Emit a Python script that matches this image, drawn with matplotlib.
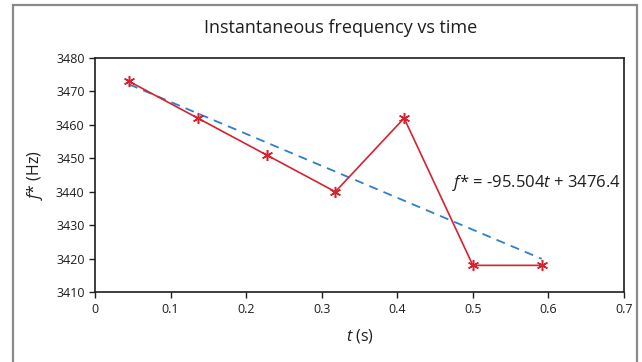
import numpy as np
import matplotlib.pyplot as plt
from matplotlib.patches import Rectangle

# data
t = [0.045, 0.136, 0.227, 0.318, 0.409, 0.500, 0.591]
f_star = [3473, 3462, 3451, 3440, 3462, 3418, 3418]

# linear trendline shown on the chart
fit_slope = -95.504
fit_intercept = 3476.4

x_ticks = [0, 0.1, 0.2, 0.3, 0.4, 0.5, 0.6, 0.7]
x_tick_labels = ["0", "0.1", "0.2", "0.3", "0.4", "0.5", "0.6", "0.7"]
y_ticks = [3410, 3420, 3430, 3440, 3450, 3460, 3470, 3480]

RED = "#d42331"
BLUE = "#2f7fc8"
TXT = "#1e1e1e"
FONTSIZE = 9

plt.rcParams["font.family"] = ["Open Sans", "DejaVu Sans"]
plt.rcParams["mathtext.fontset"] = "custom"
plt.rcParams["mathtext.rm"] = "Open Sans"
plt.rcParams["mathtext.it"] = "Open Sans:italic"

fig = plt.figure(figsize=(6.42, 3.62), dpi=100)
ax = fig.add_axes([0.148, 0.193, 0.824, 0.647])

# outer chart frame
frame = Rectangle((0.020, -0.05), 0.972, 1.036, transform=fig.transFigure,
                  fill=False, edgecolor="#8a8a8a", linewidth=1.6, clip_on=False)
fig.patches.append(frame)

fit_x = np.array([t[0], t[-1]])
fit_y = fit_slope * fit_x + fit_intercept
ax.plot(fit_x, fit_y, color=BLUE, linestyle=(0, (5, 3.5)), linewidth=1.3, zorder=2)

ax.plot(t, f_star, color=RED, linewidth=1.2, marker=(6, 2, 0), markersize=8,
        markeredgewidth=1.1, markeredgecolor=RED, zorder=3)

ax.set_xlim(0, 0.7)
ax.set_ylim(3410, 3480)
ax.set_xticks(x_ticks)
ax.set_xticklabels(x_tick_labels)
ax.set_yticks(y_ticks)
ax.tick_params(direction="out", length=4, width=1, labelsize=FONTSIZE, colors=TXT)
for sp in ax.spines.values():
    sp.set_linewidth(1.2)
    sp.set_color(TXT)

ax.text(0.473, 3442.6, r"$f$* = -95.504$t$ + 3476.4", fontsize=12, va="center",
        ha="left", color=TXT)

fig.text(0.531, 0.923, "Instantaneous frequency vs time", fontsize=13,
         ha="center", va="center", color=TXT)
ax.set_xlabel(r"$t$ (s)", fontsize=11.5, color=TXT, labelpad=8)
ax.set_ylabel(r"$f$* (Hz)", fontsize=11.5, color=TXT, labelpad=8)

fig.savefig("out.png", dpi=100)
